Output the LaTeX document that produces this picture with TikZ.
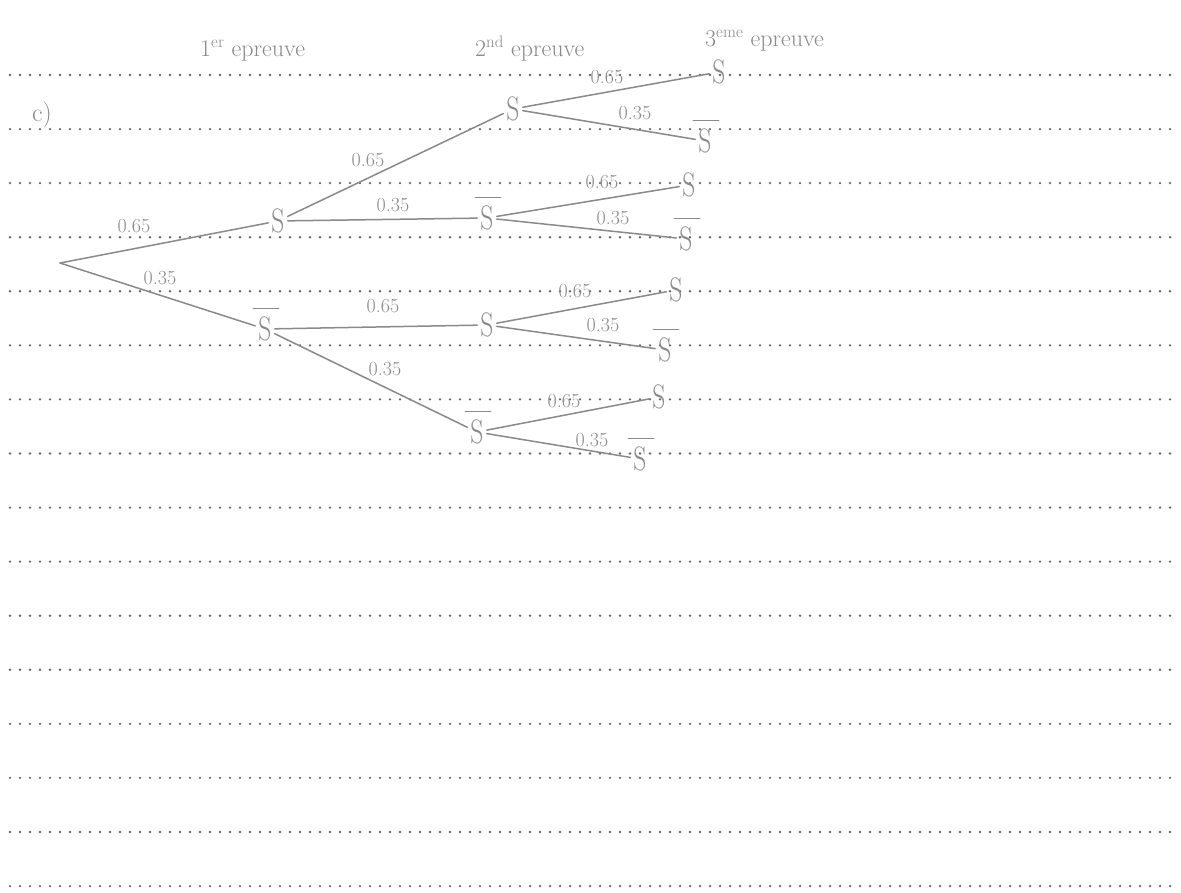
\documentclass[tikz,border=0pt]{standalone}
\usepackage{fontspec}
\usepackage{graphicx}
\definecolor{pencil}{HTML}{8A8A8A}
\definecolor{dotc}{HTML}{666666}
\tikzset{
  pencil/.style={draw=pencil, line width=1.5pt, line cap=round},
  ss/.style={text=pencil, font=\fontsize{34}{34}\selectfont, inner sep=3pt},
  prob/.style={text=pencil, font=\fontsize{20}{20}\selectfont, inner sep=0pt},
  hdr/.style={text=pencil, font=\fontsize{24}{24}\selectfont, anchor=base west, inner sep=0pt},
  ruled/.style={draw=dotc, line width=2.6pt, line cap=round, dash pattern=on 0pt off 10pt},
}
\newcommand{\hS}{\scalebox{0.75}[1]{S}}
\begin{document}
\begin{tikzpicture}[x=1pt,y=-1pt]
\useasboundingbox[fill=white] (0,0) rectangle (1181,893);
% ruled dotted lines
\foreach \k in {0,...,15}{
  \pgfmathsetmacro{\yy}{75+54.07*\k}
  \draw[ruled] (10,\yy) -- (1172,\yy);
}
% headers
\node[hdr] (h1) at (200,57) {1\textsuperscript{er} epreuve};
\node[hdr] (h2) at (475,57) {2\textsuperscript{nd} epreuve};
\node[hdr] (h3) at (705,47) {3\textsuperscript{eme} epreuve};
\node[text=pencil, font=\fontsize{26}{26}\selectfont, inner sep=0pt] (c) at (42,115) {c)};
% tree nodes
\coordinate (r) at (60,263);
\node[ss] (s1)  at (278,221) {\hS};
\node[ss] (b1)  at (265,329) {\hS};
\node[ss] (s2a) at (513,109) {\hS};
\node[ss] (b2a) at (487,218) {\hS};
\node[ss] (s2b) at (487,325) {\hS};
\node[ss] (b2b) at (477,432) {\hS};
\node[ss] (s3a) at (719,72)  {\hS};
\node[ss] (b3a) at (705,141) {\hS};
\node[ss] (s3b) at (689,185) {\hS};
\node[ss] (b3b) at (686,239) {\hS};
\node[ss] (s3c) at (676,290) {\hS};
\node[ss] (b3c) at (665,350) {\hS};
\node[ss] (s3d) at (659,397) {\hS};
\node[ss] (b3d) at (640,459) {\hS};
% bars
\foreach \n in {b1,b2a,b2b,b3a,b3b,b3c,b3d}
  \draw[pencil] ([xshift=-2pt,yshift=5pt]\n.north west) -- ([xshift=4pt,yshift=5pt]\n.north east);
% edges
\draw[pencil] (r) -- (s1);
\draw[pencil] (r) -- (b1);
\draw[pencil] (s1) -- (s2a);
\draw[pencil] (s1) -- (b2a);
\draw[pencil] (b1) -- (s2b);
\draw[pencil] (b1) -- (b2b);
\draw[pencil] (s2a) -- (s3a);
\draw[pencil] (s2a) -- (b3a);
\draw[pencil] (b2a) -- (s3b);
\draw[pencil] (b2a) -- (b3b);
\draw[pencil] (s2b) -- (s3c);
\draw[pencil] (s2b) -- (b3c);
\draw[pencil] (b2b) -- (s3d);
\draw[pencil] (b2b) -- (b3d);
% probabilities
\node[prob] (p1)  at (134,226) {0.65};
\node[prob] (p2)  at (160,278) {0.35};
\node[prob] (p3)  at (368,160) {0.65};
\node[prob] (p4)  at (393,205) {0.35};
\node[prob] (p5)  at (383,306) {0.65};
\node[prob] (p6)  at (385,369) {0.35};
\node[prob] (p7)  at (607,77)  {0.65};
\node[prob] (p8)  at (635,113) {0.35};
\node[prob] (p9)  at (602,182) {0.65};
\node[prob] (p10) at (613,218) {0.35};
\node[prob] (p11) at (575,291) {0.65};
\node[prob] (p12) at (603,325) {0.35};
\node[prob] (p13) at (564,401) {0.65};
\node[prob] (p14) at (592,440) {0.35};
\end{tikzpicture}
\end{document}
